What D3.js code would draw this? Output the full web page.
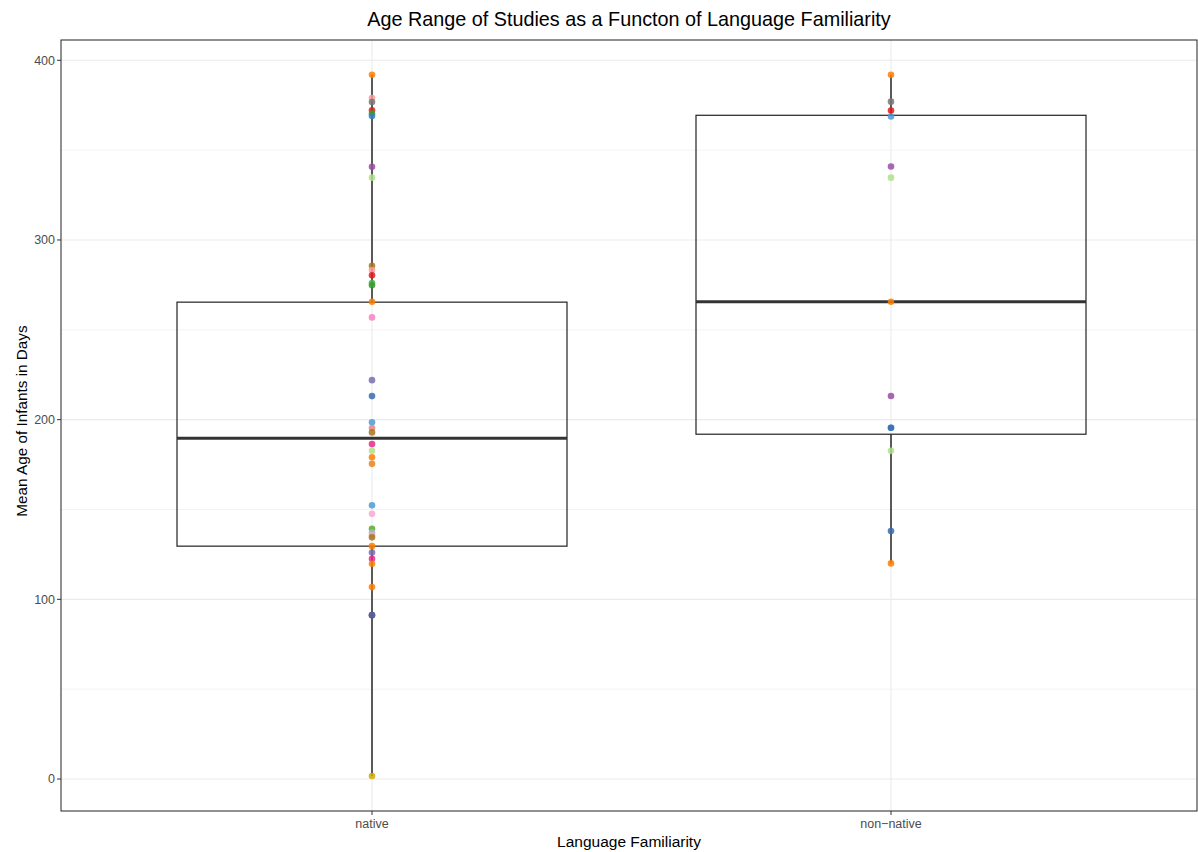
<!DOCTYPE html>
<html>
<head>
<meta charset="utf-8">
<script src="https://cdn.jsdelivr.net/npm/d3@7/dist/d3.min.js"></script>
<style>
  html, body { margin: 0; padding: 0; background: #ffffff; }
  svg { display: block; font-family: "Liberation Sans", Arial, Helvetica, sans-serif; }
</style>
</head>
<body>
<svg id="chart" width="1198" height="852"></svg>
<script>
// ---- data ----
const categories = ["native", "non\u2212native"];
const title = "Age Range of Studies as a Functon of Language Familiarity";
const xTitle = "Language Familiarity";
const yTitle = "Mean Age of Infants in Days";
const yTicks = [0, 100, 200, 300, 400];
const yMinorTicks = [50, 150, 250, 350];

// box statistics per category: [lower whisker, q1, median, q3, upper whisker]
const boxLow    = [1.7, 120];
const boxQ1     = [129.6, 191.9];
const boxMedian = [189.7, 265.6];
const boxQ3     = [265.4, 369.4];
const boxHigh   = [392, 392];

// points: native
const nativeValues = [392, 379, 376.8, 372.2, 370.3, 369, 340.7, 334.7,
  285.6, 283.3, 280.4, 276.1, 274.8, 265.6, 256.9, 222, 213.1,
  198.6, 195.3, 192.9, 186.4, 182.7, 179.1, 175.4,
  152.3, 147.6, 139.3, 137.2, 135.7, 134.5, 129.6, 126.1, 122.6, 119.8,
  106.8, 91.2, 91.2, 1.7];
const nativeColors = ["#FF7F00", "#FB9A99", "#777777", "#E41A1C", "#33A02C", "#377EB8", "#984EA3", "#B2DF8A",
  "#A6761D", "#FB9A99", "#E41A1C", "#4DAF4A", "#33A02C", "#FF7F00", "#F781BF", "#7570B3", "#386CB0",
  "#4A9BD4", "#F08080", "#A6761D", "#E7298A", "#B2DF8A", "#FF7F00", "#E6821E",
  "#4A9BD4", "#F9A8D4", "#66A61E", "#8FBFD8", "#F4A6A6", "#A6761D", "#FF7F00", "#7570B3", "#E7298A", "#FF7F00",
  "#FF7F00", "#E41A1C", "#386CB0", "#D4AA00"];

// points: non-native
const nonNativeValues = [392, 377, 372, 368.7, 340.9, 334.7, 265.6, 213.2, 195.5, 195.5, 182.7, 138, 120];
const nonNativeColors = ["#FF7F00", "#777777", "#E41A1C", "#4A9BD4", "#984EA3", "#B2DF8A", "#FF7F00", "#984EA3",
  "#4A9BD4", "#386CB0", "#B2DF8A", "#386CB0", "#FF7F00"];

// ---- layout ----
const svg = d3.select("#chart");
const W = 1198, H = 852;
const margin = { top: 40, right: 1, bottom: 41, left: 61 };
const pw = W - margin.left - margin.right;
const ph = H - margin.top - margin.bottom;

const x = d3.scalePoint().domain(categories).range([60.6, 1202.4]).padding(0.6);
const y = d3.scaleLinear().domain([-17.8, 411.3]).range([margin.top + ph, margin.top]);
const boxHalf = 195;

// grid
const g = svg.append("g");
g.selectAll("line.minor").data(yMinorTicks).join("line")
  .attr("x1", margin.left).attr("x2", margin.left + pw)
  .attr("y1", d => y(d)).attr("y2", d => y(d))
  .attr("stroke", "#ebebeb").attr("stroke-width", 0.6);
g.selectAll("line.major").data(yTicks).join("line")
  .attr("x1", margin.left).attr("x2", margin.left + pw)
  .attr("y1", d => y(d)).attr("y2", d => y(d))
  .attr("stroke", "#ebebeb").attr("stroke-width", 1.1);
g.selectAll("line.vgrid").data(categories).join("line")
  .attr("x1", d => x(d)).attr("x2", d => x(d))
  .attr("y1", margin.top).attr("y2", margin.top + ph)
  .attr("stroke", "#ebebeb").attr("stroke-width", 1.1);

// boxplots
categories.forEach((c, i) => {
  const cx = x(c);
  const bg = svg.append("g");
  bg.append("line").attr("x1", cx).attr("x2", cx)
    .attr("y1", y(boxHigh[i])).attr("y2", y(boxQ3[i]))
    .attr("stroke", "#333333").attr("stroke-width", 1.6);
  bg.append("line").attr("x1", cx).attr("x2", cx)
    .attr("y1", y(boxQ1[i])).attr("y2", y(boxLow[i]))
    .attr("stroke", "#333333").attr("stroke-width", 1.6);
  bg.append("rect").attr("x", cx - boxHalf).attr("width", boxHalf * 2)
    .attr("y", y(boxQ3[i])).attr("height", y(boxQ1[i]) - y(boxQ3[i]))
    .attr("fill", "none").attr("stroke", "#222222").attr("stroke-width", 1.2);
  bg.append("line").attr("x1", cx - boxHalf).attr("x2", cx + boxHalf)
    .attr("y1", y(boxMedian[i])).attr("y2", y(boxMedian[i]))
    .attr("stroke", "#333333").attr("stroke-width", 3);
});

// points
const pts = [];
nativeValues.forEach((v, i) => pts.push({ c: categories[0], v, col: nativeColors[i] }));
nonNativeValues.forEach((v, i) => pts.push({ c: categories[1], v, col: nonNativeColors[i] }));
svg.append("g").selectAll("circle").data(pts).join("circle")
  .attr("cx", d => x(d.c)).attr("cy", d => y(d.v)).attr("r", 3.3)
  .attr("fill", d => d.col).attr("fill-opacity", 0.85);

// panel border
svg.append("rect").attr("x", margin.left).attr("y", margin.top)
  .attr("width", pw).attr("height", ph)
  .attr("fill", "none").attr("stroke", "#222222").attr("stroke-width", 1);

// y axis ticks & labels
const ya = svg.append("g");
ya.selectAll("line").data(yTicks).join("line")
  .attr("x1", margin.left - 4).attr("x2", margin.left)
  .attr("y1", d => y(d)).attr("y2", d => y(d))
  .attr("stroke", "#333333").attr("stroke-width", 1);
ya.selectAll("text").data(yTicks).join("text")
  .attr("x", margin.left - 6).attr("y", d => y(d)).attr("dy", "0.35em")
  .attr("text-anchor", "end").attr("font-size", 12.5).attr("fill", "#4d4d4d")
  .text(d => d);

// x axis ticks & labels
const xa = svg.append("g");
xa.selectAll("line").data(categories).join("line")
  .attr("x1", d => x(d)).attr("x2", d => x(d))
  .attr("y1", margin.top + ph).attr("y2", margin.top + ph + 4)
  .attr("stroke", "#333333").attr("stroke-width", 1);
xa.selectAll("text").data(categories).join("text")
  .attr("x", d => x(d)).attr("y", margin.top + ph + 17)
  .attr("text-anchor", "middle").attr("font-size", 12.5).attr("fill", "#4d4d4d")
  .text(d => d);

// titles
svg.append("text").attr("x", margin.left + pw / 2).attr("y", 26)
  .attr("text-anchor", "middle").attr("font-size", 19.8).attr("fill", "#000")
  .text(title);
svg.append("text").attr("x", margin.left + pw / 2).attr("y", 847)
  .attr("text-anchor", "middle").attr("font-size", 15.5).attr("fill", "#000")
  .text(xTitle);
svg.append("text")
  .attr("transform", `translate(27,421) rotate(-90)`)
  .attr("text-anchor", "middle").attr("font-size", 15.3).attr("fill", "#000")
  .text(yTitle);
</script>
</body>
</html>
